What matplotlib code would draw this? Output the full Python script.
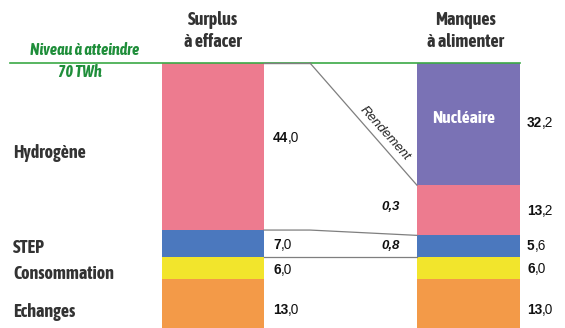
import numpy as np
import matplotlib
matplotlib.use("Agg")
import matplotlib.pyplot as plt

# Données (TWh)
categories = ["Hydrogène", "STEP", "Consommation", "Echanges"]
surplus = [44.0, 7.0, 6.0, 13.0]
manques_labels = ["Nucléaire", "Hydrogène", "STEP", "Consommation", "Echanges"]
manques = [32.2, 13.2, 5.6, 6.0, 13.0]
rendements = ["0,3", "0,8"]
niveau = 70

col_surplus = ["#ED7B8F", "#4B78BE", "#F2E52C", "#F39A48"]
col_manques = ["#7A72B5", "#ED7B8F", "#4B78BE", "#F2E52C", "#F39A48"]

COND = ["Asap Condensed", "Liberation Sans", "DejaVu Sans"]
NUM = ["Liberation Sans", "DejaVu Sans"]
plt.rcParams["font.family"] = COND

fig = plt.figure(figsize=(5.65, 3.28), dpi=100)
ax = fig.add_axes([0, 0, 1, 1])
ax.set_xlim(0, 565)
ax.set_ylim(69.8, -16.6)
ax.axis("off")

xl, xr, w = 213, 468.5, 102

def fmt(v):
    return ("%.1f" % v).replace(".", ",")

def bold_label(x, y, v):
    # partie entière en gras, décimale en normal
    ent, dec = fmt(v).split(",")
    t = ax.text(x, y, ent, fontsize=9.8, fontweight="bold", va="center", ha="left",
                family=NUM, color="#111111")
    fig.canvas.draw()
    bb = t.get_window_extent().transformed(ax.transData.inverted())
    ax.text(bb.x1, y, "," + dec, fontsize=9.8, va="center", ha="left",
            family=NUM, color="#111111")

# barres empilées
bot = np.concatenate([[0], np.cumsum(surplus)[:-1]])
ax.bar([xl] * len(surplus), surplus, bottom=bot, width=w, color=col_surplus, zorder=2)
botm = np.concatenate([[0], np.cumsum(manques)[:-1]])
ax.bar([xr] * len(manques), manques, bottom=botm, width=w + 1, color=col_manques, zorder=2)

# niveau à atteindre
ax.plot([10, xr + (w + 1) / 2], [0, 0], color="#3BA946", lw=1.2, zorder=3)
ax.text(85, -3.4, "Niveau à atteindre", color="#1F8E3A", fontsize=11.5,
        fontweight="bold", style="italic", ha="center", va="center")
ax.text(80, 2.4, "%d TWh" % niveau, color="#1F8E3A", fontsize=11.5,
        fontweight="bold", style="italic", ha="center", va="center")

# liaisons (rendement)
x0, xk, x1 = xl + w / 2, 310, xr - (w + 1) / 2
ax.plot([x0, xk], [0, 0], color="#7F7F7F", lw=1.0, zorder=4)
ax.plot([xk, x1], [0, manques[0]], color="#7F7F7F", lw=0.9, zorder=4)
ax.plot([x0, xk, x1], [surplus[0], surplus[0], manques[0] + manques[1]],
        color="#7F7F7F", lw=0.9, zorder=4)
ax.plot([x0, x1], [sum(surplus[:2])] * 2, color="#7F7F7F", lw=0.9, zorder=4)
ax.text(380, 19.6, "Rendement", fontsize=9.5, style="italic", rotation=-48,
        rotation_mode="anchor", ha="center", va="bottom", color="#222222",
        family=NUM)
ax.text(400, botm[1] + manques[1] / 2 - 0.9, rendements[0], fontsize=9.5,
        fontweight="bold", style="italic", ha="right", va="center",
        family=NUM, color="#111111")
ax.text(400, botm[2] + manques[2] / 2, rendements[1], fontsize=9.5,
        fontweight="bold", style="italic", ha="right", va="center",
        family=NUM, color="#111111")

# en-têtes
ax.text(xl, -8.4, "Surplus\nà effacer", fontsize=13, fontweight="bold",
        ha="center", va="center", color="#333333", linespacing=1.3)
ax.text(xr - 3, -8.4, "Manques\nà alimenter", fontsize=13, fontweight="bold",
        ha="center", va="center", color="#333333", linespacing=1.3)

# catégories à gauche
cat_y = [bot[0] + surplus[0] / 2 + 1.6, bot[1] + surplus[1] / 2 + 1.3,
         bot[2] + surplus[2] / 2 + 1.5, bot[3] + surplus[3] / 2 + 2.0]
for c, y in zip(categories, cat_y):
    ax.text(13, y, c, fontsize=13, fontweight="bold", ha="left", va="center",
            color="#333333")

# valeurs
offs_l = [-2.3, 0.4, 0.5, 1.5]
for v, b, o in zip(surplus, bot, offs_l):
    bold_label(273, b + v / 2 + o, v)
offs_r = [-0.3, 0.2, 0.0, 0.2, 1.5]
for v, b, o in zip(manques, botm, offs_r):
    bold_label(527, b + v / 2 + o, v)

ax.text(xr - 5, 14.5, manques_labels[0], fontsize=12.5, fontweight="bold",
        ha="center", va="center", color="white")

fig.savefig("out.png", dpi=100)
